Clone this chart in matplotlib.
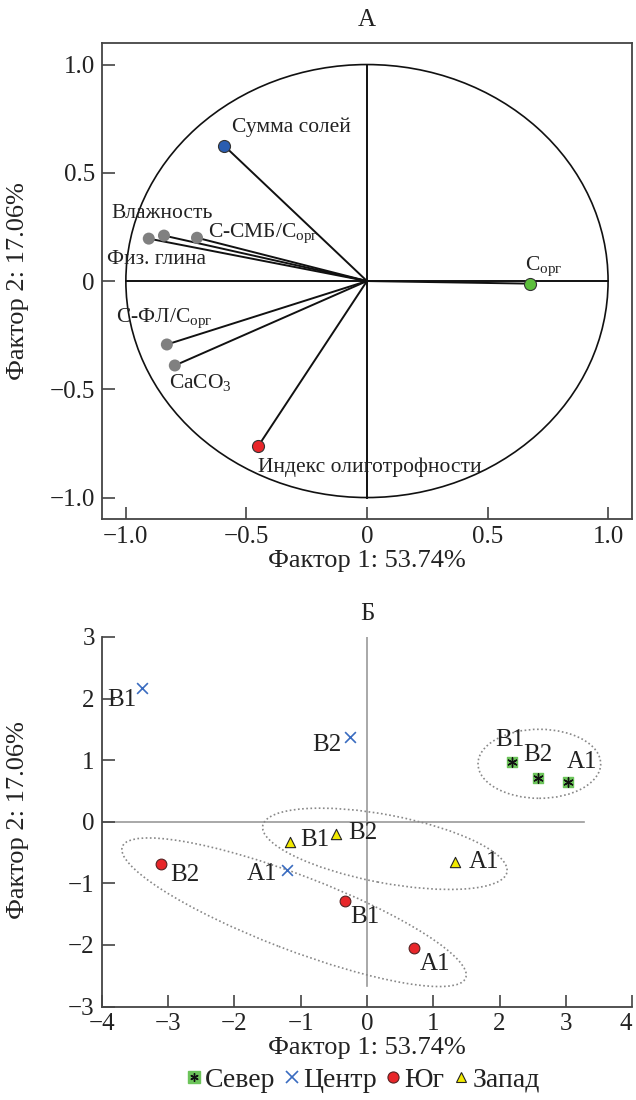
import matplotlib
matplotlib.use('Agg')
import matplotlib.pyplot as plt
from matplotlib.patches import Ellipse, Circle
from matplotlib.lines import Line2D

plt.rcParams['font.family'] = ['Liberation Serif', 'DejaVu Serif']
plt.rcParams['mathtext.fontset'] = 'custom'
plt.rcParams['mathtext.rm'] = 'Liberation Serif'
plt.rcParams['mathtext.it'] = 'Liberation Serif:italic'

# Панель А: нагрузки факторов
load_names = ['Сумма солей', 'Влажность', 'С-СМБ/С$_{\\mathrm{орг}}$', 'Физ. глина',
              'С-ФЛ/С$_{\\mathrm{орг}}$', 'CaCO$_3$', 'Индекс олиготрофности',
              'С$_{\\mathrm{орг}}$']
load_f1 = [-0.593, -0.842, -0.705, -0.905, -0.83, -0.797, -0.452, 0.676]
load_f2 = [0.626, 0.21, 0.20, 0.196, -0.293, -0.39, -0.764, -0.012]
load_colors = ['#2a5db0', '#808080', '#808080', '#808080', '#808080', '#808080',
               '#e8262a', '#5cbf3c']
# положение подписей (в единицах осей)
load_text_xy = [(-0.56, 0.71), (-1.06, 0.31), (-0.66, 0.22), (-1.08, 0.10),
                (-1.04, -0.17), (-0.82, -0.47), (-0.45, -0.86), (0.656, 0.07)]

# Панель Б: счета по горизонтам
horizons = ['A1', 'B1', 'B2']
sever_f1 = [3.03, 2.19, 2.58]
sever_f2 = [0.65, 0.97, 0.71]
centr_f1 = [-1.2, -3.40, -0.26]
centr_f2 = [-0.78, 2.17, 1.38]
yug_f1 = [0.71, -0.33, -3.1]
yug_f2 = [-2.05, -1.28, -0.68]
zapad_f1 = [1.33, -1.16, -0.47]
zapad_f2 = [-0.66, -0.33, -0.2]

# смещения подписей в пикселях (dx, dy, ha)
sever_off = [(14, 20, 'center'), (-2, 22, 'center'), (0, 23, 'center')]
centr_off = [(-10, -4, 'right'), (-5, -12, 'right'), (-8, -8, 'right')]
yug_off = [(6, -16, 'left'), (5, -16, 'left'), (9, -11, 'left')]
zapad_off = [(14, 0, 'left'), (10, 2, 'left'), (12, 1, 'left')]

fig = plt.figure(figsize=(6.36, 11), dpi=100)
spine_c = '#444444'
txt_c = '#222222'

# ---------- А ----------
ax1 = fig.add_axes([0.160, 0.528, 0.834, 0.433])
ax1.set_xlim(-1.1, 1.1)
ax1.set_ylim(-1.1, 1.1)
ax1.add_patch(Circle((0, 0), 1.0, fill=False, color='#111111', lw=1.2))
ax1.plot([-1, 1], [0, 0], color='#111111', lw=1.4)
ax1.plot([0, 0], [-1, 1], color='#111111', lw=1.4)
for i in range(len(load_names)):
    ax1.plot([0, load_f1[i]], [0, load_f2[i]], color='#111111', lw=1.4, zorder=2)
    ax1.scatter(load_f1[i], load_f2[i], s=75, color=load_colors[i],
                edgecolors='#333333' if load_colors[i] != '#808080' else 'none',
                linewidths=0.8, zorder=4)
    ax1.text(load_text_xy[i][0], load_text_xy[i][1], load_names[i], fontsize=15.5,
             ha='left', va='center', color=txt_c)
ax1.set_xticks([-1.0, -0.5, 0, 0.5, 1.0])
ax1.set_xticklabels(['−1.0', '−0.5', '0', '0.5', '1.0'])
ax1.set_yticks([-1.0, -0.5, 0, 0.5, 1.0])
ax1.set_yticklabels(['−1.0', '−0.5', '0', '0.5', '1.0'])
ax1.tick_params(direction='in', length=9, width=1.2, colors=spine_c,
                labelsize=18, labelcolor=txt_c, pad=5)
for s in ax1.spines.values():
    s.set_color(spine_c)
    s.set_linewidth(1.3)
ax1.set_xlabel('Фактор 1: 53.74%', fontsize=19, color=txt_c, labelpad=1)
ax1.set_title('А', fontsize=18, color=txt_c, pad=12)
fig.text(18 / 636, 1 - 281 / 1100, 'Фактор 2: 17.06%', rotation=90, fontsize=19,
         ha='center', va='center', color=txt_c)

# ---------- Б ----------
ax2 = fig.add_axes([0.160, 0.085, 0.834, 0.336])
ax2.set_xlim(-4, 4)
ax2.set_ylim(-3, 3)
ax2.plot([-4, 3.27], [0, 0], color='#9a9a9a', lw=1.2, zorder=1)
ax2.plot([0, 0], [-2.67, 3], color='#9a9a9a', lw=1.2, zorder=1)

ell_kw = dict(fill=False, ec='#888888', lw=1.2, ls=(0, (1, 1.5)), zorder=1)
ax2.add_patch(Ellipse((2.6, 0.94), 1.85, 1.12, angle=0, **ell_kw))
ax2.add_patch(Ellipse((0.27, -0.44), 3.76, 1.1, angle=-11.7, **ell_kw))
ax2.add_patch(Ellipse((-1.1, -1.47), 5.6, 1.2, angle=-22.5, **ell_kw))

ax2.scatter(sever_f1, sever_f2, marker='s', s=60, color='#6cc45a', zorder=4)
ax2.scatter(sever_f1, sever_f2, marker=(6, 2, 0), s=45, color='#111111',
            linewidths=1.0, zorder=5)
ax2.scatter(centr_f1, centr_f2, marker='x', s=60, color='#3a6cc0', linewidths=1.2, zorder=4)
ax2.scatter(yug_f1, yug_f2, marker='o', s=60, color='#e8262a', edgecolors='#552222',
            linewidths=0.8, zorder=4)
ax2.scatter(zapad_f1, zapad_f2, marker='^', s=55, color='#f2ea00', edgecolors='#222222',
            linewidths=0.8, zorder=4)

for xs, ys, offs in [(sever_f1, sever_f2, sever_off), (centr_f1, centr_f2, centr_off),
                     (yug_f1, yug_f2, yug_off), (zapad_f1, zapad_f2, zapad_off)]:
    for j in range(3):
        dx, dy, ha = offs[j]
        ax2.annotate(horizons[j], (xs[j], ys[j]), xytext=(dx, dy),
                     textcoords='offset pixels', ha=ha, va='center',
                     fontsize=18, color=txt_c, zorder=6)

ax2.set_xticks(range(-4, 5))
ax2.set_xticklabels(['−4', '−3', '−2', '−1', '0', '1', '2', '3', '4'])
ax2.get_xticklabels()[-1].set_horizontalalignment('right')
ax2.set_yticks(range(-3, 4))
ax2.set_yticklabels(['−3', '−2', '−1', '0', '1', '2', '3'])
ax2.tick_params(direction='in', length=9, width=1.2, colors=spine_c,
                labelsize=18, labelcolor=txt_c, pad=5)
ax2.spines['top'].set_visible(False)
ax2.spines['right'].set_visible(False)
for s in ['left', 'bottom']:
    ax2.spines[s].set_color(spine_c)
    ax2.spines[s].set_linewidth(1.3)
ax2.set_xlabel('Фактор 1: 53.74%', fontsize=19, color=txt_c, labelpad=1)
ax2.set_title('Б', fontsize=18, color=txt_c, pad=12)
fig.text(18 / 636, 1 - 820 / 1100, 'Фактор 2: 17.06%', rotation=90, fontsize=19,
         ha='center', va='center', color=txt_c)

h_sever = (Line2D([], [], marker='s', ls='none', ms=8, color='#6cc45a'),
           Line2D([], [], marker=(6, 2, 0), ls='none', ms=6, color='#111111', mew=1.0))
h_centr = Line2D([], [], marker='x', ls='none', ms=8, color='#3a6cc0', mew=1.2)
h_yug = Line2D([], [], marker='o', ls='none', ms=8, color='#e8262a', mec='#552222', mew=0.8)
h_zapad = Line2D([], [], marker='^', ls='none', ms=7, color='#f2ea00', mec='#222222', mew=0.8)
fig.legend([h_sever, h_centr, h_yug, h_zapad], ['Север', 'Центр', 'Юг', 'Запад'],
           loc='center', bbox_to_anchor=(0.57, 0.018), ncol=4, frameon=False,
           fontsize=20, handletextpad=0.1, columnspacing=0.3, handlelength=0.6,
           labelcolor=txt_c)

fig.savefig('out.png', dpi=100)
